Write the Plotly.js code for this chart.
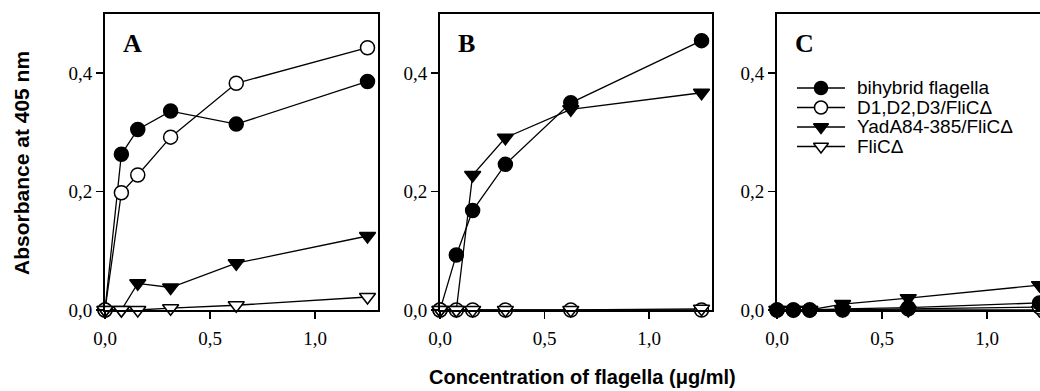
<!DOCTYPE html>
<html>
<head>
<meta charset="utf-8">
<script src="https://cdn.plot.ly/plotly-3.0.1.min.js"></script>
<style>
html,body{margin:0;padding:0;background:#fff;}
#chart{width:1040px;height:391px;}
</style>
</head>
<body>
<div id="chart"></div>
<script>
// ---- data ----
const conc = [0, 0.078, 0.156, 0.3125, 0.625, 1.25];
const seriesNames = ['bihybrid flagella', 'D1,D2,D3/FliCΔ', 'YadA84-385/FliCΔ', 'FliCΔ'];
const panelLabels = ['A', 'B', 'C'];
const xTickVals = [0, 0.5, 1.0];
const yTickVals = [0, 0.2, 0.4];

const A_bihybrid = [0, 0.263, 0.305, 0.336, 0.314, 0.386];
const A_d123     = [0, 0.198, 0.228, 0.292, 0.383, 0.443];
const A_yada     = [0, 0, 0.045, 0.038, 0.079, 0.125];
const A_flic     = [0, 0, 0, 0.003, 0.008, 0.022];

const B_bihybrid = [0, 0.093, 0.168, 0.246, 0.350, 0.455];
const B_d123     = [0, 0, 0, 0, 0, 0];
const B_yada     = [0, 0, 0.228, 0.291, 0.339, 0.367];
const B_flic     = [0, 0, 0, 0, 0, 0.002];

const C_bihybrid = [0, 0, 0, 0.002, 0.004, 0.012];
const C_d123     = [0, 0, 0, 0, 0.002, 0.005];
const C_yada     = [0, 0, 0, 0.010, 0.020, 0.042];
const C_flic     = [0, 0, 0, 0, 0, 0];

// ---- styles ----
const styles = [
  {symbol: 'circle', fill: '#000'},
  {symbol: 'circle', fill: '#fff'},
  {symbol: 'triangle-down', fill: '#000'},
  {symbol: 'triangle-down', fill: '#fff'}
];
function tr(y, si, xa, ya) {
  return {
    x: conc, y: y, xaxis: xa, yaxis: ya,
    type: 'scatter', mode: 'lines+markers', showlegend: false, cliponaxis: false,
    name: seriesNames[si],
    line: {color: '#000', width: 1.3},
    marker: {symbol: styles[si].symbol, size: 14, color: styles[si].fill,
             line: {color: '#000', width: 1.5}}
  };
}
const traces = [
  tr(A_bihybrid, 0, 'x', 'y'), tr(A_d123, 1, 'x', 'y'), tr(A_yada, 2, 'x', 'y'), tr(A_flic, 3, 'x', 'y'),
  tr(B_bihybrid, 0, 'x2', 'y2'), tr(B_d123, 1, 'x2', 'y2'), tr(B_yada, 2, 'x2', 'y2'), tr(B_flic, 3, 'x2', 'y2'),
  tr(C_flic, 3, 'x3', 'y3'), tr(C_d123, 1, 'x3', 'y3'), tr(C_yada, 2, 'x3', 'y3'), tr(C_bihybrid, 0, 'x3', 'y3')
];

// ---- manual legend (pixel-mapped helper axes over panel C) ----
const legRows = [88, 107.5, 127, 146.5];
const annotations = [];
legRows.forEach(function (ry, i) {
  traces.push({x: [797, 845], y: [ry, ry], xaxis: 'x4', yaxis: 'y4', type: 'scatter', mode: 'lines',
    showlegend: false, hoverinfo: 'skip', line: {color: '#000', width: 1.3}});
  traces.push({x: [821], y: [ry], xaxis: 'x4', yaxis: 'y4', type: 'scatter', mode: 'markers',
    showlegend: false, hoverinfo: 'skip', cliponaxis: false,
    marker: {symbol: styles[i].symbol, size: 13, color: styles[i].fill, line: {color: '#000', width: 1.5}}});
  annotations.push({x: 856, y: ry, xref: 'x4', yref: 'y4', xanchor: 'left', yanchor: 'middle',
    showarrow: false, text: seriesNames[i], borderpad: 0,
    font: {family: 'Liberation Sans, Arial, sans-serif', size: 19, color: '#000'}});
});

const W = 1040, H = 391;
const yTop = 14, yBot = 310;
const yDom = [1 - yBot / H, 1 - yTop / H];
const panelLeft = [105, 440, 777];
const panelRight = [378, 712, 1040];

panelLabels.forEach(function (t, i) {
  annotations.push({x: (panelLeft[i] + 16) / W, y: 1 - 43 / H, xref: 'paper', yref: 'paper',
    xanchor: 'left', yanchor: 'middle', showarrow: false, text: '<b>' + t + '</b>',
    font: {family: 'Liberation Serif, Times New Roman, serif', size: 26, color: '#000'}});
});
annotations.push({x: 22 / W, y: 1 - 163 / H, xref: 'paper', yref: 'paper', xanchor: 'center', yanchor: 'middle',
  textangle: -90, showarrow: false, text: '<b>Absorbance at 405 nm</b>',
  font: {family: 'Liberation Sans, Arial, sans-serif', size: 21, color: '#000'}});
annotations.push({x: 582 / W, y: 1 - 377 / H, xref: 'paper', yref: 'paper', xanchor: 'center', yanchor: 'middle',
  showarrow: false, text: '<b>Concentration of flagella (μg/ml)</b>', borderpad: 0,
  font: {family: 'Liberation Sans, Arial, sans-serif', size: 20, color: '#000'}});

const tickFont = {family: 'Liberation Serif, Times New Roman, serif', size: 19, color: '#000'};
function xax(i, xmax) {
  return {domain: [panelLeft[i] / W, panelRight[i] / W], range: [0, xmax], anchor: i === 0 ? 'y' : 'y' + (i + 1),
    tickmode: 'array', tickvals: xTickVals, tickformat: '.1f', ticks: 'outside', ticklen: 7, tickwidth: 1.5,
    tickcolor: '#000', showline: true, linewidth: 2, linecolor: '#000', mirror: true, showgrid: false,
    zeroline: false, tickfont: tickFont, ticklabelstandoff: 3, fixedrange: true};
}
function yax(i, mirror) {
  return {domain: yDom, range: [0, 0.5], anchor: i === 0 ? 'x' : 'x' + (i + 1),
    tickmode: 'array', tickvals: yTickVals, tickformat: '.1f', ticks: 'outside', ticklen: 7, tickwidth: 1.5,
    tickcolor: '#000', showline: true, linewidth: 2, linecolor: '#000', mirror: mirror, showgrid: false,
    zeroline: false, tickfont: tickFont, fixedrange: true};
}

const layout = {
  width: W, height: H, margin: {l: 0, r: 0, t: 0, b: 0},
  paper_bgcolor: '#fff', plot_bgcolor: 'rgba(0,0,0,0)',
  separators: ',.', showlegend: false,
  xaxis: xax(0, 1.3), yaxis: yax(0, true),
  xaxis2: xax(1, 1.3), yaxis2: yax(1, true),
  xaxis3: xax(2, (1040 - 777) / 210), yaxis3: yax(2, false),
  xaxis4: {domain: [777 / W, 1], range: [777, 1040], anchor: 'y4', visible: false, fixedrange: true},
  yaxis4: {domain: yDom, range: [yBot, yTop], anchor: 'x4', visible: false, fixedrange: true},
  annotations: annotations
};

Plotly.newPlot('chart', traces, layout, {displayModeBar: false, staticPlot: true});
</script>
</body>
</html>
